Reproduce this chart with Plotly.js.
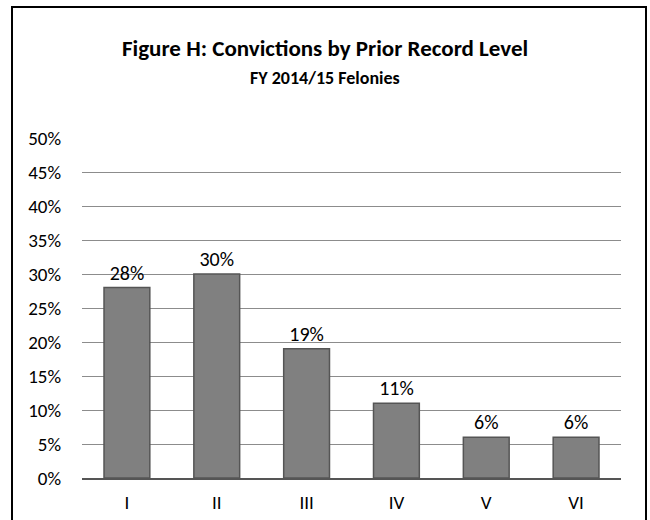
<!DOCTYPE html>
<html>
<head>
<meta charset="utf-8">
<script src="https://cdn.plot.ly/plotly-3.0.1.min.js"></script>
<style>
  html, body { margin: 0; padding: 0; background: #fff; }
  #wrap { position: relative; width: 650px; height: 520px; overflow: hidden; }
  #chart { position: absolute; left: 0; top: 0; width: 650px; height: 520px; }
  #frame { position: absolute; left: 11px; top: 6px; width: 636px; height: 530px;
           border: 2px solid #000; pointer-events: none; box-sizing: border-box; }
</style>
</head>
<body>
<div id="wrap">
  <div id="chart"></div>
  <div id="frame"></div>
</div>
<script>
const categories = ["I", "II", "III", "IV", "V", "VI"];
const shares = [0.28, 0.30, 0.19, 0.11, 0.06, 0.06];
const yTickValues = [0, 0.05, 0.10, 0.15, 0.20, 0.25, 0.30, 0.35, 0.40, 0.45, 0.50];
const titleText = "Figure H: Convictions by Prior Record Level";
const subtitleText = "FY 2014/15 Felonies";

const FONT = "Calibri, Carlito, Lato, 'Open Sans', sans-serif";

const trace = {
  type: "bar",
  x: categories,
  y: shares,
  marker: { color: "#808080", line: { color: "#555555", width: 1.5 } },
  text: shares.map(v => Math.round(v * 100) + "%"),
  textposition: "outside",
  cliponaxis: false,
  textfont: { family: FONT, size: 20, color: "#000" },
  hoverinfo: "none"
};

const layout = {
  width: 650, height: 520,
  margin: { l: 82, r: 29, t: 138, b: 42, pad: 0 },
  paper_bgcolor: "#fff", plot_bgcolor: "#fff",
  showlegend: false,
  bargap: 0.49,
  font: { family: FONT, size: 19, color: "#000" },
  xaxis: {
    type: "category",
    showgrid: false,
    showline: true, linecolor: "#555555", linewidth: 2,
    ticks: "", tickfont: { family: FONT, size: 19, color: "#000" },
    ticklabelstandoff: 6
  },
  yaxis: {
    range: [0, 0.5],
    tickvals: yTickValues,
    ticktext: yTickValues.map(v => Math.round(v * 100) + "%"),
    showgrid: true, gridcolor: "#8c8c8c", gridwidth: 1,
    zeroline: false, showline: false, ticks: "",
    tickfont: { family: FONT, size: 19, color: "#000" },
    ticklabelstandoff: 20
  },
  annotations: [
    { text: "<b>" + titleText + "</b>", xref: "paper", yref: "paper",
      x: (325 - 82) / 539, y: (478 - 48) / 340, xanchor: "center", yanchor: "middle",
      showarrow: false, font: { family: FONT, size: 23, color: "#000" } },
    { text: "<b>" + subtitleText + "</b>", xref: "paper", yref: "paper",
      x: (325 - 82) / 539, y: (478 - 78) / 340, xanchor: "center", yanchor: "middle",
      showarrow: false, font: { family: FONT, size: 18, color: "#000" } }
  ]
};

Plotly.newPlot("chart", [trace], layout, { displayModeBar: false, staticPlot: true });
</script>
</body>
</html>
